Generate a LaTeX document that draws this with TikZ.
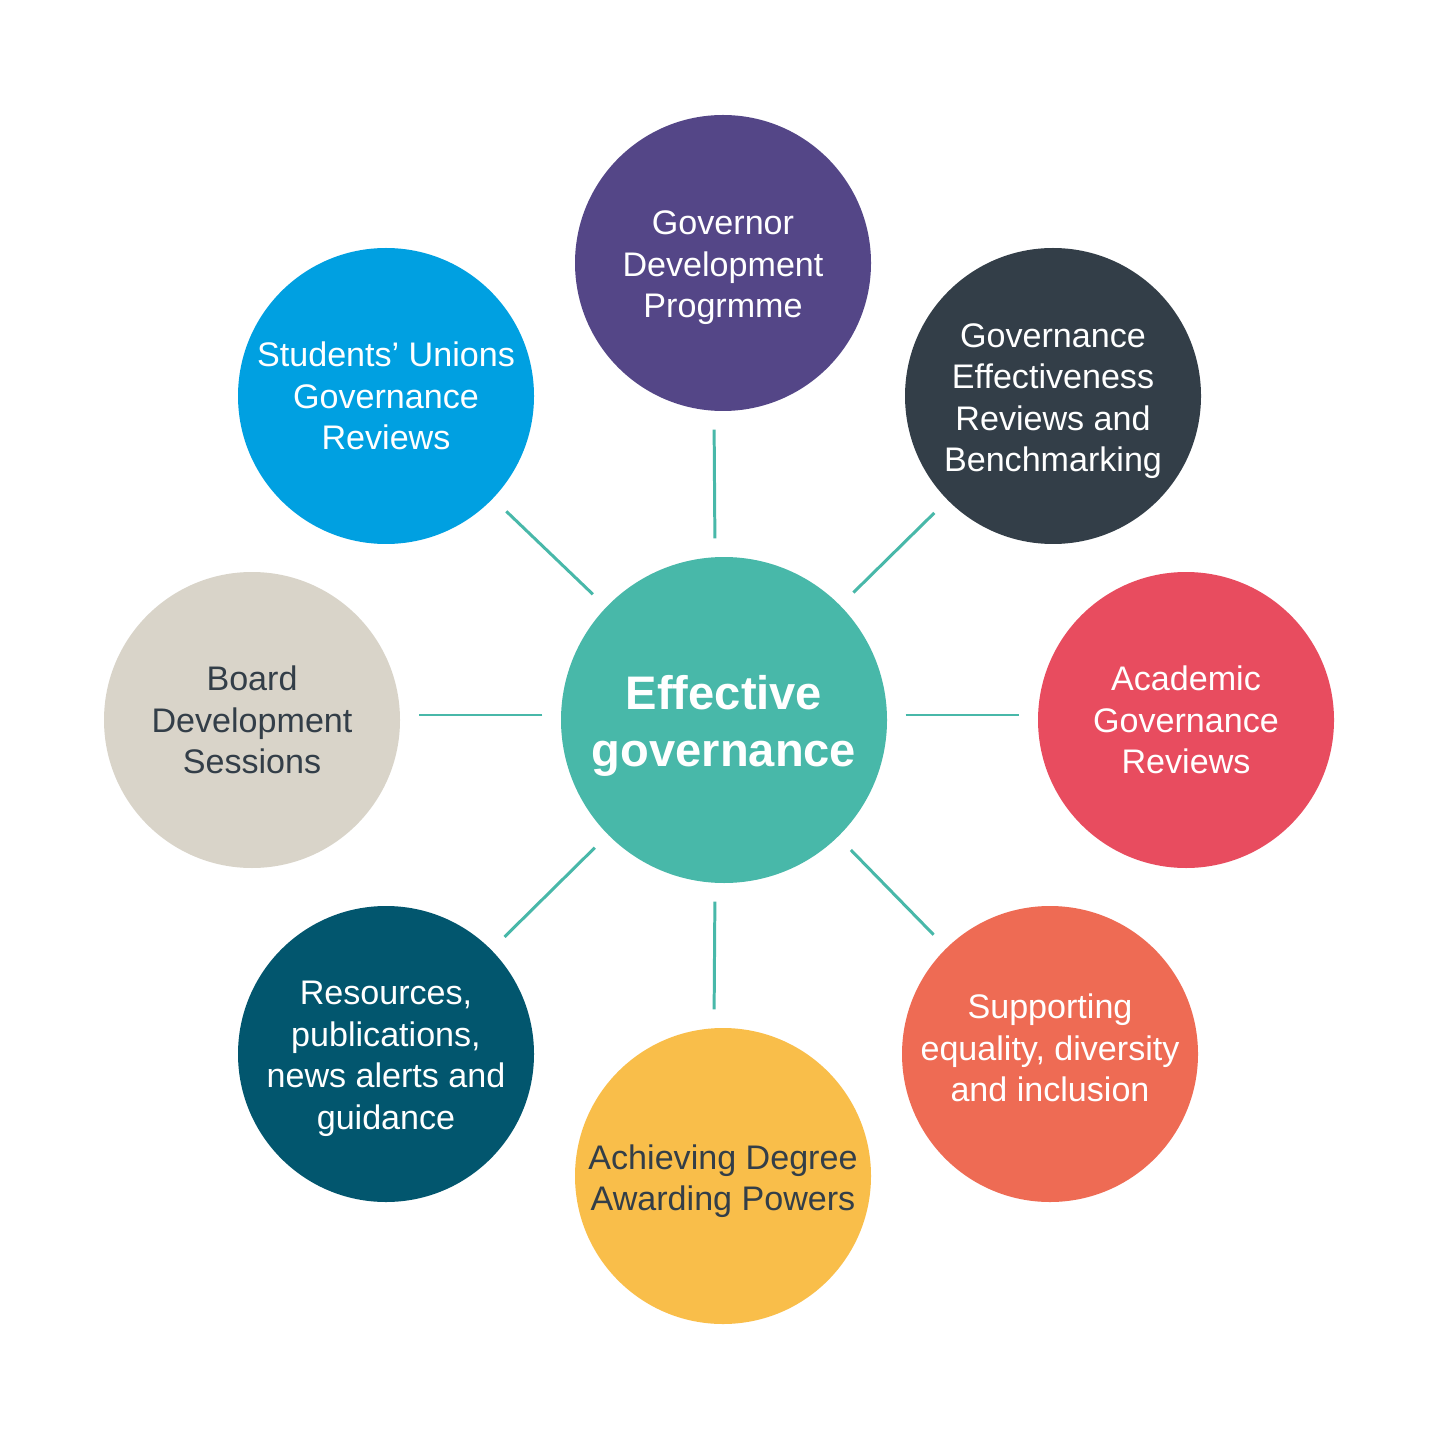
\documentclass[tikz,border=0pt]{standalone}
\usepackage{fontspec}
\setmainfont{Liberation Sans}
\usepackage{tikz}
\usetikzlibrary{positioning}
\definecolor{cTeal}  {HTML}{48B8A9}
\definecolor{cPurp}  {HTML}{544687}
\definecolor{cSlate} {HTML}{333E48}
\definecolor{cRed}   {HTML}{E84C5F}
\definecolor{cOrng}  {HTML}{EE6B54}
\definecolor{cYell}  {HTML}{F9BE4A}
\definecolor{cNavy}  {HTML}{02566E}
\definecolor{cBeige} {HTML}{D9D4C9}
\definecolor{cBlue}  {HTML}{00A0E1}
\definecolor{cText}  {HTML}{333E48}
\tikzset{
  bub/.style  ={circle,minimum size=29.6mm,inner sep=0pt},
  lbl/.style  ={align=center,inner sep=0pt,text=white,
                font=\fontsize{9.7pt}{11.8pt}\selectfont},
  dlbl/.style ={lbl,text=cText},
  low/.style  ={yshift=-0.5mm},
  hub/.style  ={circle,fill=cTeal,minimum size=32.6mm,inner sep=0pt},
  hlbl/.style ={align=center,inner sep=0pt,text=white,yshift=-0.6mm,
                font=\fontsize{13.4pt}{16.1pt}\selectfont\bfseries},
  link/.style ={draw=cTeal,line width=0.85pt,shorten <=1.8mm,shorten >=1.8mm},
}
\begin{document}
\begin{tikzpicture}[x=0.1mm, y=-0.1mm]
\useasboundingbox[fill=white] (0,0) rectangle (1440,1440);

% ===== hub ================================================================
\node[hub,label={[hlbl]center:{Effective\\ governance}}] (gc) at (724,720) {};

% ===== ring of activities (clockwise from top) =============================
\node[bub,fill=cPurp,label={[lbl,low]center:{Governor\\ Development\\ Progrmme}}]
  (gdp) at (723,263) {};
\node[bub,fill=cSlate,label={[lbl,low]center:{Governance\\ Effectiveness\\
  Reviews and\\ Benchmarking}}] (ger) at (1053,396) {};
\node[bub,fill=cRed,label={[lbl]center:{Academic\\ Governance\\ Reviews}}]
  (agr) at (1186,720) {};
% this one sits a little above the middle of its circle
\node[bub,fill=cOrng,label={[lbl,yshift=0.6mm]center:{Supporting\\
  equality, diversity\\ and inclusion}}] (edi) at (1050,1054) {};
\node[bub,fill=cYell,label={[dlbl,low]center:{Achieving Degree\\
  Awarding Powers}}] (dap) at (723,1176) {};
\node[bub,fill=cNavy,label={[lbl,low]center:{Resources,\\ publications,\\
  news alerts and\\ guidance}}] (res) at (386,1054) {};
\node[bub,fill=cBeige,label={[dlbl]center:{Board\\ Development\\ Sessions}}]
  (bds) at (252,720) {};
\node[bub,fill=cBlue,label={[lbl]center:{Students’ Unions\\ Governance\\
  Reviews}}] (sug) at (386,396) {};

% ===== spokes ==============================================================
% straight spokes sit a little off the hub centre, as drawn
\draw[link] ([xshift=-0.9mm]gc.north) -- ([xshift=-0.9mm]gdp.south);
\draw[link] ([xshift=-0.9mm]gc.south) -- ([xshift=-0.9mm]dap.north);
\draw[link] ([yshift=0.5mm]gc.east) -- ([yshift=0.5mm]agr.west);
\draw[link] ([yshift=0.5mm]gc.west) -- ([yshift=0.5mm]bds.east);
\foreach \n in {ger,edi,res,sug}{\draw[link] (gc) -- (\n);}
\end{tikzpicture}
\end{document}
